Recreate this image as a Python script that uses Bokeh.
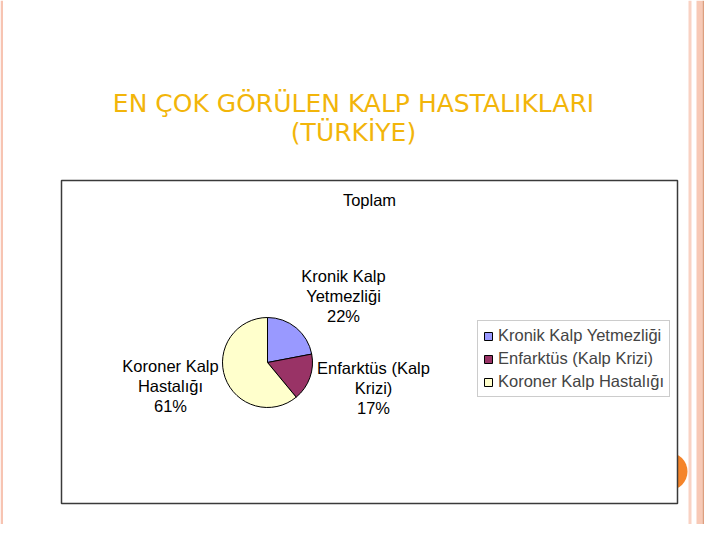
import numpy as np
from bokeh.plotting import figure
from bokeh.models import Range1d, Legend, LegendItem
from bokeh.core.properties import value
from bokeh.embed import file_html
from bokeh.resources import INLINE

# ---- data ----
categories = ["Kronik Kalp Yetmezliği", "Enfarktüs (Kalp Krizi)", "Koroner Kalp Hastalığı"]
shares = [22, 17, 61]
colors = ["#9999FF", "#993366", "#FFFFCC"]
label_lines = [["Kronik Kalp", "Yetmezliği"], ["Enfarktüs (Kalp", "Krizi)"], ["Koroner Kalp", "Hastalığı"]]
title_lines = ["EN ÇOK GÖRÜLEN KALP HASTALIKLARI", "(TÜRKİYE)"]
chart_title = "Toplam"

H = 540  # page height, used to flip image-style y coordinates


def Y(y):
    return H - y


p = figure(width=704, height=524, x_range=Range1d(0, 704), y_range=Range1d(16, 540),
           output_backend="svg", toolbar_location=None, min_border=0,
           x_axis_location=None, y_axis_location=None)
p.grid.visible = False
p.outline_line_color = None
p.background_fill_color = "#FFFFFF"
p.border_fill_color = "#FFFFFF"

# right-side decorative stripes
stripes = [(688, 691, "#F9D2C3"), (696, 702, "#F8C9B6"), (702, 703.5, "#DE9E7E"),
           (703.5, 704, "#FAD6C8")]
for l, r, c in stripes:
    p.quad(left=l, right=r, bottom=16, top=540, fill_color=c, line_color=None)
# left decorative stripe
p.quad(left=0, right=2.5, bottom=16, top=540, fill_color="#F7C4B2", line_color=None)

# orange circle behind chart box
p.scatter(x=[668], y=[Y(471)], size=38, fill_color="#F5842A", line_color=None)

# chart box
p.quad(left=61, right=677, bottom=Y(503), top=Y(180), fill_color="#FFFFFF",
       line_color="#3a3a3a", line_width=1.5)

# slide title
for i, t in enumerate(title_lines):
    p.text(x=[353], y=[Y(103 + 29 * i)], text=[t], text_align="center", text_baseline="middle",
           text_font=value("DejaVu Sans"), text_font_size="25px", text_color="#F2B50A")

p.text(x=[369], y=[Y(199)], text=[chart_title], text_align="center", text_baseline="middle",
       text_font=value("Liberation Sans"), text_font_size="16.5px", text_color="#000000")

# pie
vals = np.array(shares, dtype=float)
frac = vals / vals.sum()
cum = np.concatenate([[0], np.cumsum(frac)])
start = np.pi / 2 - 2 * np.pi * cum[:-1]
end = np.pi / 2 - 2 * np.pi * cum[1:]
cx, cy, rad = 267, Y(362), 45
renderers = []
for i in range(len(categories)):
    r = p.wedge(x=cx, y=cy, radius=rad, start_angle=start[i], end_angle=end[i], direction="clock",
                fill_color=colors[i], line_color="#000000", line_width=1)
    renderers.append(r)

# data labels
label_pos = [(343, 275), (373, 367), (170, 365)]
for i, (lx, ly) in enumerate(label_pos):
    lines = label_lines[i] + [f"{shares[i]}%"]
    for j, ln in enumerate(lines):
        p.text(x=[lx], y=[Y(ly + 20 * j)], text=[ln], text_align="center", text_baseline="middle",
               text_font=value("Liberation Sans"), text_font_size="16.5px", text_color="#000000")

legend = Legend(items=[LegendItem(label=categories[i], renderers=[renderers[i]]) for i in range(3)],
                location=(477, 127), label_text_font="Liberation Sans", label_text_font_size="16.5px",
                glyph_width=10, glyph_height=10, label_height=18, spacing=4, padding=5, margin=0,
                label_standoff=5, border_line_color="#9a9a9a", border_line_width=1,
                background_fill_color="#FFFFFF", background_fill_alpha=1.0)
p.add_layout(legend)

open("out.html", "w").write(file_html(p, INLINE))
